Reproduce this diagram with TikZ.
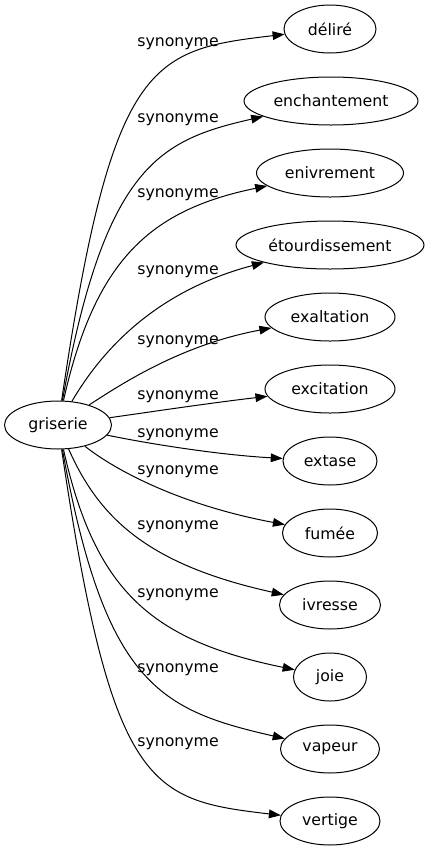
\documentclass[tikz,border=0pt]{standalone}
\usepackage{fontspec}
\setmainfont{DejaVu Sans}
\usetikzlibrary{shapes.geometric,arrows.meta}

\begin{document}
\begin{tikzpicture}[x=0.75pt, y=-0.75pt,
    word_node/.style={ellipse, draw, line width=0.75pt, inner sep=0pt, minimum height=36pt, font=\fontsize{11.8}{14}\selectfont},
    label_node/.style={inner sep=0pt, font=\fontsize{11.8}{14}\selectfont},
    syn_edge/.style={-{Triangle[length=9pt, width=6.5pt]}, line width=0.75pt}]

    \useasboundingbox (0,0) rectangle (429,851);

    \node[word_node, minimum width=80.25pt] (griserie) at (58,425) {griserie};

    \node[word_node, minimum width=69pt] (delire) at (330,29) {déliré};
    \node[word_node, minimum width=130.5pt] (enchantement) at (331,101) {enchantement};
    \node[word_node, minimum width=110.25pt] (enivrement) at (330,173) {enivrement};
    \node[word_node, minimum width=141pt] (etourdissement) at (330,245) {étourdissement};
    \node[word_node, minimum width=97.5pt] (exaltation) at (330,317) {exaltation};
    \node[word_node, minimum width=97.5pt] (excitation) at (330,389) {excitation};
    \node[word_node, minimum width=70.5pt] (extase) at (330,461) {extase};
    \node[word_node, minimum width=71.25pt] (fumee) at (330,533) {fumée};
    \node[word_node, minimum width=75.75pt] (ivresse) at (330,605) {ivresse};
    \node[word_node, minimum width=54.75pt] (joie) at (330,677) {joie};
    \node[word_node, minimum width=74.25pt] (vapeur) at (330,749) {vapeur};
    \node[word_node, minimum width=75pt] (vertige) at (330,821) {vertige};

    \node[label_node] (syn1) at (178,44) {synonyme};
    \node[label_node] (syn2) at (178,120) {synonyme};
    \node[label_node] (syn3) at (178,195) {synonyme};
    \node[label_node] (syn4) at (178,272) {synonyme};
    \node[label_node] (syn5) at (178,342) {synonyme};
    \node[label_node] (syn6) at (178,397) {synonyme};
    \node[label_node] (syn7) at (178,435) {synonyme};
    \node[label_node] (syn8) at (178,472) {synonyme};
    \node[label_node] (syn9) at (178,527) {synonyme};
    \node[label_node] (syn10) at (178,595) {synonyme};
    \node[label_node] (syn11) at (178,670) {synonyme};
    \node[label_node] (syn12) at (178,744) {synonyme};

    \draw[syn_edge] (griserie) .. controls (112,60) and (150,50) .. (delire);
    \draw[syn_edge] (griserie) .. controls (105,165) and (160,140) .. (enchantement);
    \draw[syn_edge] (griserie) .. controls (95,260) and (150,210) .. (enivrement);
    \draw[syn_edge] (griserie) .. controls (105,345) and (160,290) .. (etourdissement);
    \draw[syn_edge] (griserie) .. controls (120,385) and (180,345) .. (exaltation);
    \draw[syn_edge] (griserie) .. controls (150,412) and (210,403) .. (excitation);
    \draw[syn_edge] (griserie) .. controls (150,444) and (220,455) .. (extase);
    \draw[syn_edge] (griserie) .. controls (115,470) and (180,505) .. (fumee);
    \draw[syn_edge] (griserie) .. controls (100,520) and (150,565) .. (ivresse);
    \draw[syn_edge] (griserie) .. controls (95,590) and (150,640) .. (joie);
    \draw[syn_edge] (griserie) .. controls (105,685) and (160,710) .. (vapeur);
    \draw[syn_edge] (griserie) .. controls (112,790) and (150,800) .. (vertige);
\end{tikzpicture}
\end{document}
